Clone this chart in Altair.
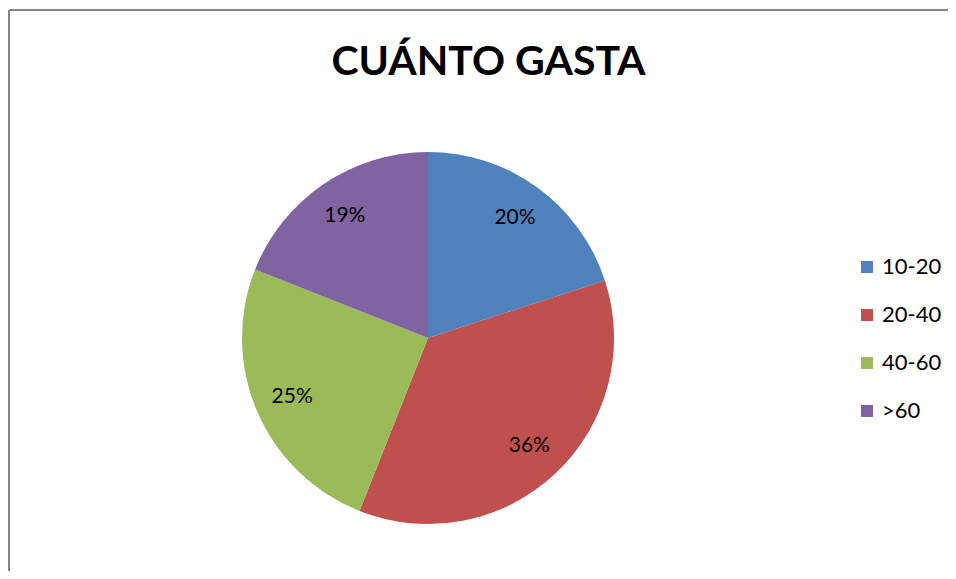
import altair as alt
import pandas as pd

categories = ["10-20", "20-40", "40-60", ">60"]
values = [20, 36, 25, 19]
colors = ["#4F81BD", "#C0504D", "#9BBB59", "#8064A2"]
title_text = ["CUÁNTO GASTA"]

df = pd.DataFrame({
    "cat": categories,
    "value": values,
    "order": list(range(len(categories))),
    "label": [f"{v}%" for v in values],
})

CX, CY = 420, 330

base = alt.Chart(df).encode(
    theta=alt.Theta("value:Q", stack=True),
    order=alt.Order("order:Q"),
    x=alt.value(CX),
    y=alt.value(CY),
)

pie = base.mark_arc(radius=186).encode(
    color=alt.Color(
        "cat:N",
        scale=alt.Scale(domain=categories, range=colors),
        legend=alt.Legend(
            title=None,
            orient="none",
            legendX=848,
            legendY=248,
            symbolType="square",
            symbolSize=144,
            symbolStrokeWidth=0,
            symbolOpacity=1,
            labelFont="Lato",
            labelFontSize=22,
            labelColor="black",
            rowPadding=26,
            labelOffset=4,
            padding=0,
        ),
    )
)

labels = base.mark_text(radius=148, font="Lato", fontSize=21, color="black").encode(
    text="label:N"
)

title = alt.Chart(pd.DataFrame({"t": title_text})).mark_text(
    font="Lato", fontWeight="bold", fontSize=41, baseline="alphabetic", align="center", color="black"
).encode(text="t:N", x=alt.value(480.5), y=alt.value(67))

border_df = pd.DataFrame({"a": [0]})
vline = alt.Chart(border_df).mark_rule(color="#868686", strokeWidth=2).encode(
    x=alt.value(1), y=alt.value(2), y2=alt.value(800)
)
hline = alt.Chart(border_df).mark_rule(color="#868686", strokeWidth=2).encode(
    x=alt.value(1), x2=alt.value(1200), y=alt.value(2)
)

chart = alt.layer(vline, hline, pie, labels, title).properties(
    width=940,
    height=563,
    autosize=alt.AutoSizeParams(type="none"),
    padding=0,
).configure_view(stroke=None)

chart.save("out.html", embed_options={"renderer": "svg", "actions": False})
